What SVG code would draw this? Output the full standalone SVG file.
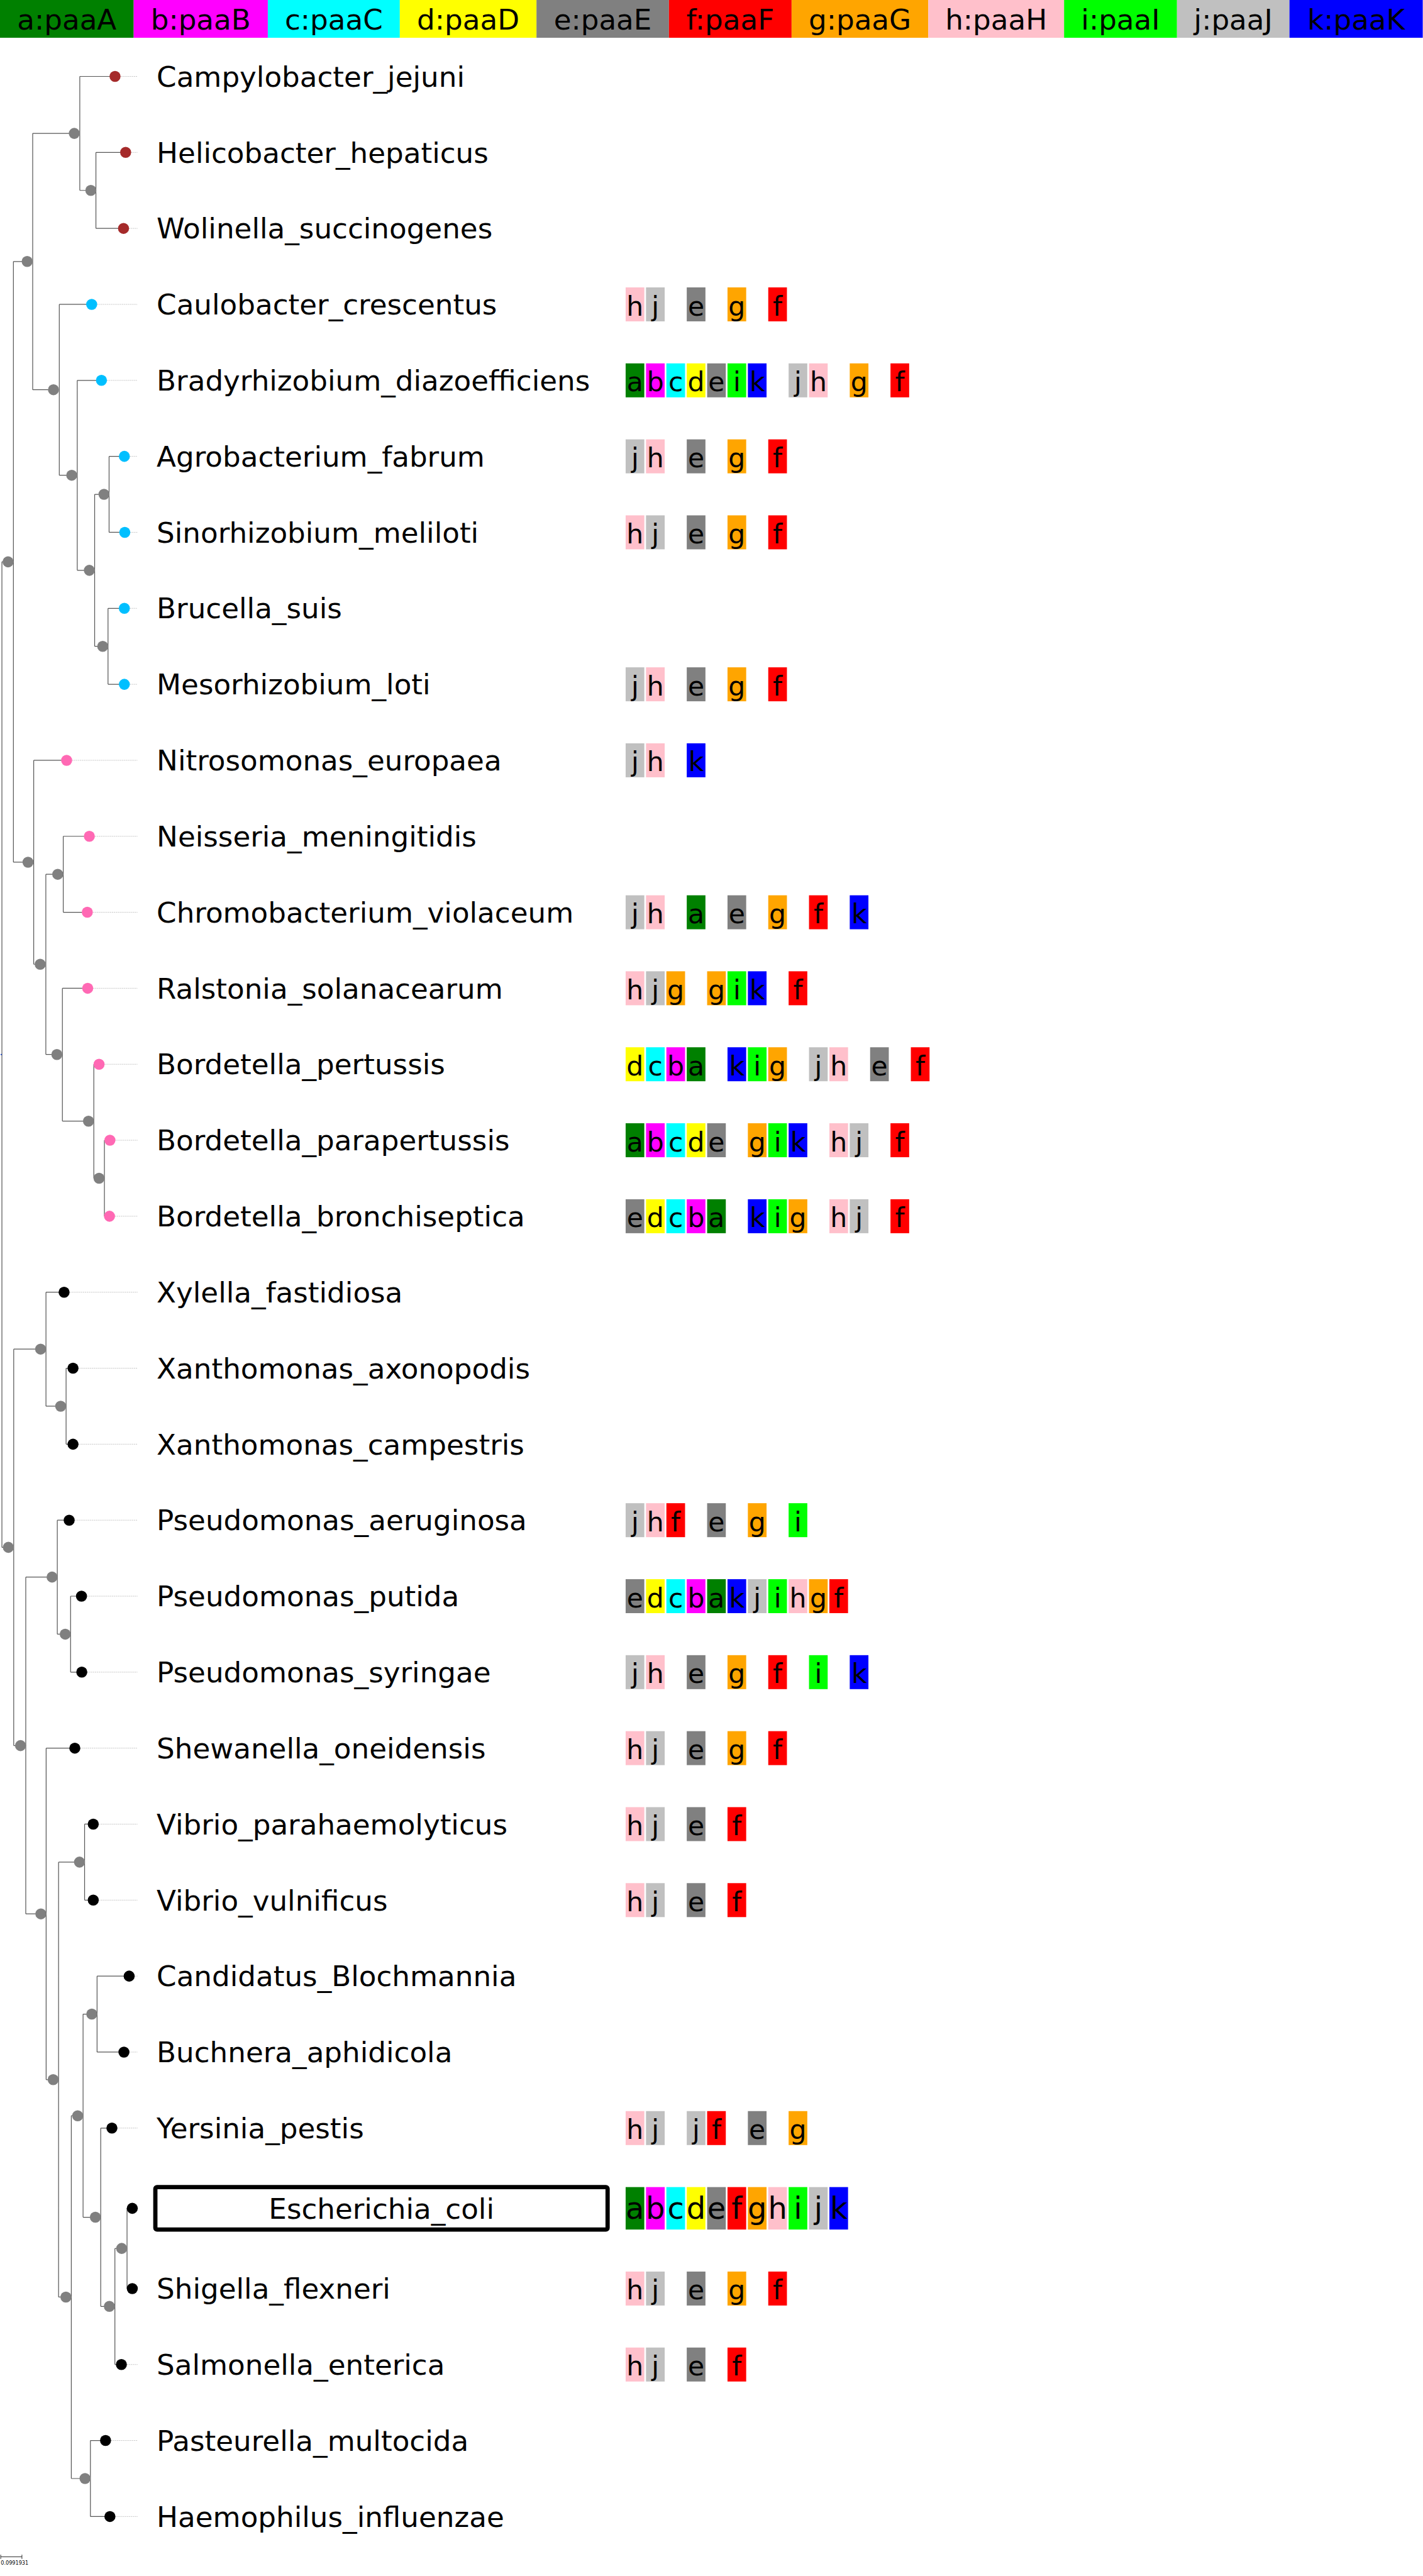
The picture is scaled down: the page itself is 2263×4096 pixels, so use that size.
<svg xmlns="http://www.w3.org/2000/svg" width="2263" height="4096" viewBox="0 0 2263 4096">
<style>
.ht{font-family:'DejaVu Sans',sans-serif;font-size:67px;fill:#000;text-anchor:middle}
.br{stroke:#555;stroke-width:1.8;fill:none}
.lk{stroke:#bbb;stroke-width:1.2;stroke-dasharray:3 1.5;fill:none}
.in{fill:#808080}
.ep{fill:#a52a2a}.al{fill:#00bfff}.be{fill:#ff69b4}.ga{fill:#000}
.lab{font-family:'DejaVu Sans',sans-serif;font-size:67px;fill:#000}
.gl{font-family:'DejaVu Sans',sans-serif;font-size:63px;fill:#000;text-anchor:middle}
.gl2{font-family:'DejaVu Sans',sans-serif;font-size:71px;fill:#000;text-anchor:middle}
.a{fill:#008000}.b{fill:#ff00ff}.c{fill:#00ffff}.d{fill:#ffff00}.e{fill:#808080}.f{fill:#ff0000}.g{fill:#ffa500}.h{fill:#ffc0cb}.i{fill:#00ff00}.j{fill:#c0c0c0}.k{fill:#0000ff}
</style>
<rect width="2263" height="4096" fill="#fff"/>
<g transform="scale(0.675)">
<g id="legend">
<rect class="a" x="0" y="0" width="315" height="89"/><text class="ht" x="157.5" y="69">a:paaA</text>
<rect class="b" x="315" y="0" width="316" height="89"/><text class="ht" x="473" y="69">b:paaB</text>
<rect class="c" x="631" y="0" width="311" height="89"/><text class="ht" x="786.5" y="69">c:paaC</text>
<rect class="d" x="942" y="0" width="322" height="89"/><text class="ht" x="1103" y="69">d:paaD</text>
<rect class="e" x="1264" y="0" width="312" height="89"/><text class="ht" x="1420" y="69">e:paaE</text>
<rect class="f" x="1576" y="0" width="289" height="89"/><text class="ht" x="1720.5" y="69">f:paaF</text>
<rect class="g" x="1865" y="0" width="322" height="89"/><text class="ht" x="2026" y="69">g:paaG</text>
<rect class="h" x="2187" y="0" width="320" height="89"/><text class="ht" x="2347" y="69">h:paaH</text>
<rect class="i" x="2507" y="0" width="266" height="89"/><text class="ht" x="2640" y="69">i:paaI</text>
<rect class="j" x="2773" y="0" width="265" height="89"/><text class="ht" x="2905.5" y="69">j:paaJ</text>
<rect class="k" x="3038" y="0" width="314" height="89"/><text class="ht" x="3195" y="69">k:paaK</text>
</g>
<g id="connectors">
<path class="br" d="M4.5 1323.5V3645M4.5 1323.5H19M4.5 3645H19.7
M31.6 616V2031M31.6 616H64M31.6 2031H66
M77 314.25V918M77 314.25H175M77 918H126
M188 180V448.5M188 180H271M188 448.5H214
M226 359V538M226 359H296M226 538H291
M139.7 717V1119.5M139.7 717H216M139.7 1119.5H169
M182 896V1343.5M182 896H239M182 1343.5H210.5
M223 1164.5V1522.5M223 1164.5H245M223 1522.5H242
M257 1075V1254M257 1075H293M257 1254H294
M254.5 1433V1612M254.5 1433H293M254.5 1612H293
M79.4 1791V2271.5M79.4 1791H157M79.4 2271.5H94.7
M108 2059.5V2484M108 2059.5H136M108 2484H134
M149 1970V2149M149 1970H210.5M149 2149H205.7
M147 2328V2641M147 2328H206.6M147 2641H208.5
M221 2507V2775.5M221 2507H233.4M221 2775.5H233.4
M246 2686V2865M246 2686H259M246 2865H258
M32.3 3178V4112M32.3 3178H95.7M32.3 4112H48.3
M108.3 3044V3312.5M108.3 3044H151M108.3 3312.5H143
M155.7 3223V3402M155.7 3223H172M155.7 3402H172
M60.7 3715V4508.4M60.7 3715H122.7M60.7 4508.4H96.3
M135 3581V3849.5M135 3581H163M135 3849.5H153.7
M166.3 3760V3939M166.3 3760H192M166.3 3939H192.7
M108.7 4118V4899M108.7 4118H176.3M108.7 4899H125.3
M138 4386.5V5411M138 4386.5H187.3M138 5411H155.3
M199.3 4297V4476M199.3 4297H219.7M199.3 4476H219.7
M168 4984V5838.5M168 4984H183M168 5838.5H200.3
M195.7 4744.5V5223M195.7 4744.5H216.3M195.7 5223H224.7
M228.7 4655V4834M228.7 4655H304.3M228.7 4834H292
M237.3 5013V5433M237.3 5013H263.7M237.3 5433H257.7
M270.7 5296.5V5570M270.7 5296.5H286.7M270.7 5570H286
M299.3 5202V5391M299.3 5202H311.7M299.3 5391H311.7
M213 5749V5928M213 5749H248.7M213 5928H259"/>
<path class="lk" d="M284 180H324M309 359H324M304 538H324M229 717H324M252 896H324M306 1075H324M307 1254H324M306 1433H324M306 1612H324M170 1791H324M223.5 1970H324M218.7 2149H324M219.6 2328H324M246.4 2507H324M272 2686H324M271 2865H324M164 3044H324M185 3223H324M185 3402H324M176 3581H324M205 3760H324M205.7 3939H324M189.3 4118H324M232.7 4297H324M232.7 4476H324M317.3 4655H324M305 4834H324M276.7 5013H324M299 5570H324M261.7 5749H324M272 5928H324"/>
</g>
<g id="internal-nodes">
<circle cx="3" cy="2484" r="1.5" fill="#0030c1"/>
<circle class="in" cx="19" cy="1323.5" r="13"/>
<circle class="in" cx="64" cy="616" r="13"/>
<circle class="in" cx="175" cy="314.25" r="13"/>
<circle class="in" cx="214" cy="448.5" r="13"/>
<circle class="in" cx="126" cy="918" r="13"/>
<circle class="in" cx="169" cy="1119.5" r="13"/>
<circle class="in" cx="210.5" cy="1343.5" r="13"/>
<circle class="in" cx="245" cy="1164.5" r="13"/>
<circle class="in" cx="242" cy="1522.5" r="13"/>
<circle class="in" cx="66" cy="2031" r="13"/>
<circle class="in" cx="94.7" cy="2271.5" r="13"/>
<circle class="in" cx="136" cy="2059.5" r="13"/>
<circle class="in" cx="134" cy="2484" r="13"/>
<circle class="in" cx="208.5" cy="2641" r="13"/>
<circle class="in" cx="233.4" cy="2775.5" r="13"/>
<circle class="in" cx="19.7" cy="3645" r="13"/>
<circle class="in" cx="95.7" cy="3178" r="13"/>
<circle class="in" cx="143" cy="3312.5" r="13"/>
<circle class="in" cx="48.3" cy="4112" r="13"/>
<circle class="in" cx="122.7" cy="3715" r="13"/>
<circle class="in" cx="153.7" cy="3849.5" r="13"/>
<circle class="in" cx="96.3" cy="4508.4" r="13"/>
<circle class="in" cx="125.3" cy="4899" r="13"/>
<circle class="in" cx="187.3" cy="4386.5" r="13"/>
<circle class="in" cx="155.3" cy="5411" r="13"/>
<circle class="in" cx="183" cy="4984" r="13"/>
<circle class="in" cx="216.3" cy="4744.5" r="13"/>
<circle class="in" cx="224.7" cy="5223" r="13"/>
<circle class="in" cx="257.7" cy="5433" r="13"/>
<circle class="in" cx="286.7" cy="5296.5" r="13"/>
<circle class="in" cx="200.3" cy="5838.5" r="13"/>
</g>
<g id="Campylobacter_jejuni"><circle class="ep" cx="271" cy="180" r="13"/><text class="lab" x="369" y="204">Campylobacter_jejuni</text></g>
<g id="Helicobacter_hepaticus"><circle class="ep" cx="296" cy="359" r="13"/><text class="lab" x="369" y="383">Helicobacter_hepaticus</text></g>
<g id="Wolinella_succinogenes"><circle class="ep" cx="291" cy="538" r="13"/><text class="lab" x="369" y="562">Wolinella_succinogenes</text></g>
<g id="Caulobacter_crescentus"><circle class="al" cx="216" cy="717" r="13"/><text class="lab" x="369" y="741">Caulobacter_crescentus</text>
<rect class="h" x="1474" y="677" width="44" height="80"/><rect class="j" x="1522" y="677" width="44" height="80"/><rect class="e" x="1618" y="677" width="44" height="80"/><rect class="g" x="1714" y="677" width="44" height="80"/><rect class="f" x="1810" y="677" width="44" height="80"/>
<g transform="translate(0,743)"><text class="gl" x="1496">h</text><text class="gl" x="1544">j</text><text class="gl" x="1640">e</text><text class="gl" x="1736">g</text><text class="gl" x="1832">f</text></g></g>
<g id="Bradyrhizobium_diazoefficiens"><circle class="al" cx="239" cy="896" r="13"/><text class="lab" x="369" y="920">Bradyrhizobium_diazoefficiens</text>
<rect class="a" x="1474" y="856" width="44" height="80"/><rect class="b" x="1522" y="856" width="44" height="80"/><rect class="c" x="1570" y="856" width="44" height="80"/><rect class="d" x="1618" y="856" width="44" height="80"/><rect class="e" x="1666" y="856" width="44" height="80"/><rect class="i" x="1714" y="856" width="44" height="80"/><rect class="k" x="1762" y="856" width="44" height="80"/><rect class="j" x="1858" y="856" width="44" height="80"/><rect class="h" x="1906" y="856" width="44" height="80"/><rect class="g" x="2002" y="856" width="44" height="80"/><rect class="f" x="2098" y="856" width="44" height="80"/>
<g transform="translate(0,922)"><text class="gl" x="1496">a</text><text class="gl" x="1544">b</text><text class="gl" x="1592">c</text><text class="gl" x="1640">d</text><text class="gl" x="1688">e</text><text class="gl" x="1736">i</text><text class="gl" x="1784">k</text><text class="gl" x="1880">j</text><text class="gl" x="1928">h</text><text class="gl" x="2024">g</text><text class="gl" x="2120">f</text></g></g>
<g id="Agrobacterium_fabrum"><circle class="al" cx="293" cy="1075" r="13"/><text class="lab" x="369" y="1099">Agrobacterium_fabrum</text>
<rect class="j" x="1474" y="1035" width="44" height="80"/><rect class="h" x="1522" y="1035" width="44" height="80"/><rect class="e" x="1618" y="1035" width="44" height="80"/><rect class="g" x="1714" y="1035" width="44" height="80"/><rect class="f" x="1810" y="1035" width="44" height="80"/>
<g transform="translate(0,1101)"><text class="gl" x="1496">j</text><text class="gl" x="1544">h</text><text class="gl" x="1640">e</text><text class="gl" x="1736">g</text><text class="gl" x="1832">f</text></g></g>
<g id="Sinorhizobium_meliloti"><circle class="al" cx="294" cy="1254" r="13"/><text class="lab" x="369" y="1278">Sinorhizobium_meliloti</text>
<rect class="h" x="1474" y="1214" width="44" height="80"/><rect class="j" x="1522" y="1214" width="44" height="80"/><rect class="e" x="1618" y="1214" width="44" height="80"/><rect class="g" x="1714" y="1214" width="44" height="80"/><rect class="f" x="1810" y="1214" width="44" height="80"/>
<g transform="translate(0,1280)"><text class="gl" x="1496">h</text><text class="gl" x="1544">j</text><text class="gl" x="1640">e</text><text class="gl" x="1736">g</text><text class="gl" x="1832">f</text></g></g>
<g id="Brucella_suis"><circle class="al" cx="293" cy="1433" r="13"/><text class="lab" x="369" y="1457">Brucella_suis</text></g>
<g id="Mesorhizobium_loti"><circle class="al" cx="293" cy="1612" r="13"/><text class="lab" x="369" y="1636">Mesorhizobium_loti</text>
<rect class="j" x="1474" y="1572" width="44" height="80"/><rect class="h" x="1522" y="1572" width="44" height="80"/><rect class="e" x="1618" y="1572" width="44" height="80"/><rect class="g" x="1714" y="1572" width="44" height="80"/><rect class="f" x="1810" y="1572" width="44" height="80"/>
<g transform="translate(0,1638)"><text class="gl" x="1496">j</text><text class="gl" x="1544">h</text><text class="gl" x="1640">e</text><text class="gl" x="1736">g</text><text class="gl" x="1832">f</text></g></g>
<g id="Nitrosomonas_europaea"><circle class="be" cx="157" cy="1791" r="13"/><text class="lab" x="369" y="1815">Nitrosomonas_europaea</text>
<rect class="j" x="1474" y="1751" width="44" height="80"/><rect class="h" x="1522" y="1751" width="44" height="80"/><rect class="k" x="1618" y="1751" width="44" height="80"/>
<g transform="translate(0,1817)"><text class="gl" x="1496">j</text><text class="gl" x="1544">h</text><text class="gl" x="1640">k</text></g></g>
<g id="Neisseria_meningitidis"><circle class="be" cx="210.5" cy="1970" r="13"/><text class="lab" x="369" y="1994">Neisseria_meningitidis</text></g>
<g id="Chromobacterium_violaceum"><circle class="be" cx="205.7" cy="2149" r="13"/><text class="lab" x="369" y="2173">Chromobacterium_violaceum</text>
<rect class="j" x="1474" y="2109" width="44" height="80"/><rect class="h" x="1522" y="2109" width="44" height="80"/><rect class="a" x="1618" y="2109" width="44" height="80"/><rect class="e" x="1714" y="2109" width="44" height="80"/><rect class="g" x="1810" y="2109" width="44" height="80"/><rect class="f" x="1906" y="2109" width="44" height="80"/><rect class="k" x="2002" y="2109" width="44" height="80"/>
<g transform="translate(0,2175)"><text class="gl" x="1496">j</text><text class="gl" x="1544">h</text><text class="gl" x="1640">a</text><text class="gl" x="1736">e</text><text class="gl" x="1832">g</text><text class="gl" x="1928">f</text><text class="gl" x="2024">k</text></g></g>
<g id="Ralstonia_solanacearum"><circle class="be" cx="206.6" cy="2328" r="13"/><text class="lab" x="369" y="2352">Ralstonia_solanacearum</text>
<rect class="h" x="1474" y="2288" width="44" height="80"/><rect class="j" x="1522" y="2288" width="44" height="80"/><rect class="g" x="1570" y="2288" width="44" height="80"/><rect class="g" x="1666" y="2288" width="44" height="80"/><rect class="i" x="1714" y="2288" width="44" height="80"/><rect class="k" x="1762" y="2288" width="44" height="80"/><rect class="f" x="1858" y="2288" width="44" height="80"/>
<g transform="translate(0,2354)"><text class="gl" x="1496">h</text><text class="gl" x="1544">j</text><text class="gl" x="1592">g</text><text class="gl" x="1688">g</text><text class="gl" x="1736">i</text><text class="gl" x="1784">k</text><text class="gl" x="1880">f</text></g></g>
<g id="Bordetella_pertussis"><circle class="be" cx="233.4" cy="2507" r="13"/><text class="lab" x="369" y="2531">Bordetella_pertussis</text>
<rect class="d" x="1474" y="2467" width="44" height="80"/><rect class="c" x="1522" y="2467" width="44" height="80"/><rect class="b" x="1570" y="2467" width="44" height="80"/><rect class="a" x="1618" y="2467" width="44" height="80"/><rect class="k" x="1714" y="2467" width="44" height="80"/><rect class="i" x="1762" y="2467" width="44" height="80"/><rect class="g" x="1810" y="2467" width="44" height="80"/><rect class="j" x="1906" y="2467" width="44" height="80"/><rect class="h" x="1954" y="2467" width="44" height="80"/><rect class="e" x="2050" y="2467" width="44" height="80"/><rect class="f" x="2146" y="2467" width="44" height="80"/>
<g transform="translate(0,2533)"><text class="gl" x="1496">d</text><text class="gl" x="1544">c</text><text class="gl" x="1592">b</text><text class="gl" x="1640">a</text><text class="gl" x="1736">k</text><text class="gl" x="1784">i</text><text class="gl" x="1832">g</text><text class="gl" x="1928">j</text><text class="gl" x="1976">h</text><text class="gl" x="2072">e</text><text class="gl" x="2168">f</text></g></g>
<g id="Bordetella_parapertussis"><circle class="be" cx="259" cy="2686" r="13"/><text class="lab" x="369" y="2710">Bordetella_parapertussis</text>
<rect class="a" x="1474" y="2646" width="44" height="80"/><rect class="b" x="1522" y="2646" width="44" height="80"/><rect class="c" x="1570" y="2646" width="44" height="80"/><rect class="d" x="1618" y="2646" width="44" height="80"/><rect class="e" x="1666" y="2646" width="44" height="80"/><rect class="g" x="1762" y="2646" width="44" height="80"/><rect class="i" x="1810" y="2646" width="44" height="80"/><rect class="k" x="1858" y="2646" width="44" height="80"/><rect class="h" x="1954" y="2646" width="44" height="80"/><rect class="j" x="2002" y="2646" width="44" height="80"/><rect class="f" x="2098" y="2646" width="44" height="80"/>
<g transform="translate(0,2712)"><text class="gl" x="1496">a</text><text class="gl" x="1544">b</text><text class="gl" x="1592">c</text><text class="gl" x="1640">d</text><text class="gl" x="1688">e</text><text class="gl" x="1784">g</text><text class="gl" x="1832">i</text><text class="gl" x="1880">k</text><text class="gl" x="1976">h</text><text class="gl" x="2024">j</text><text class="gl" x="2120">f</text></g></g>
<g id="Bordetella_bronchiseptica"><circle class="be" cx="258" cy="2865" r="13"/><text class="lab" x="369" y="2889">Bordetella_bronchiseptica</text>
<rect class="e" x="1474" y="2825" width="44" height="80"/><rect class="d" x="1522" y="2825" width="44" height="80"/><rect class="c" x="1570" y="2825" width="44" height="80"/><rect class="b" x="1618" y="2825" width="44" height="80"/><rect class="a" x="1666" y="2825" width="44" height="80"/><rect class="k" x="1762" y="2825" width="44" height="80"/><rect class="i" x="1810" y="2825" width="44" height="80"/><rect class="g" x="1858" y="2825" width="44" height="80"/><rect class="h" x="1954" y="2825" width="44" height="80"/><rect class="j" x="2002" y="2825" width="44" height="80"/><rect class="f" x="2098" y="2825" width="44" height="80"/>
<g transform="translate(0,2891)"><text class="gl" x="1496">e</text><text class="gl" x="1544">d</text><text class="gl" x="1592">c</text><text class="gl" x="1640">b</text><text class="gl" x="1688">a</text><text class="gl" x="1784">k</text><text class="gl" x="1832">i</text><text class="gl" x="1880">g</text><text class="gl" x="1976">h</text><text class="gl" x="2024">j</text><text class="gl" x="2120">f</text></g></g>
<g id="Xylella_fastidiosa"><circle class="ga" cx="151" cy="3044" r="13"/><text class="lab" x="369" y="3068">Xylella_fastidiosa</text></g>
<g id="Xanthomonas_axonopodis"><circle class="ga" cx="172" cy="3223" r="13"/><text class="lab" x="369" y="3247">Xanthomonas_axonopodis</text></g>
<g id="Xanthomonas_campestris"><circle class="ga" cx="172" cy="3402" r="13"/><text class="lab" x="369" y="3426">Xanthomonas_campestris</text></g>
<g id="Pseudomonas_aeruginosa"><circle class="ga" cx="163" cy="3581" r="13"/><text class="lab" x="369" y="3605">Pseudomonas_aeruginosa</text>
<rect class="j" x="1474" y="3541" width="44" height="80"/><rect class="h" x="1522" y="3541" width="44" height="80"/><rect class="f" x="1570" y="3541" width="44" height="80"/><rect class="e" x="1666" y="3541" width="44" height="80"/><rect class="g" x="1762" y="3541" width="44" height="80"/><rect class="i" x="1858" y="3541" width="44" height="80"/>
<g transform="translate(0,3607)"><text class="gl" x="1496">j</text><text class="gl" x="1544">h</text><text class="gl" x="1592">f</text><text class="gl" x="1688">e</text><text class="gl" x="1784">g</text><text class="gl" x="1880">i</text></g></g>
<g id="Pseudomonas_putida"><circle class="ga" cx="192" cy="3760" r="13"/><text class="lab" x="369" y="3784">Pseudomonas_putida</text>
<rect class="e" x="1474" y="3720" width="44" height="80"/><rect class="d" x="1522" y="3720" width="44" height="80"/><rect class="c" x="1570" y="3720" width="44" height="80"/><rect class="b" x="1618" y="3720" width="44" height="80"/><rect class="a" x="1666" y="3720" width="44" height="80"/><rect class="k" x="1714" y="3720" width="44" height="80"/><rect class="j" x="1762" y="3720" width="44" height="80"/><rect class="i" x="1810" y="3720" width="44" height="80"/><rect class="h" x="1858" y="3720" width="44" height="80"/><rect class="g" x="1906" y="3720" width="44" height="80"/><rect class="f" x="1954" y="3720" width="44" height="80"/>
<g transform="translate(0,3786)"><text class="gl" x="1496">e</text><text class="gl" x="1544">d</text><text class="gl" x="1592">c</text><text class="gl" x="1640">b</text><text class="gl" x="1688">a</text><text class="gl" x="1736">k</text><text class="gl" x="1784">j</text><text class="gl" x="1832">i</text><text class="gl" x="1880">h</text><text class="gl" x="1928">g</text><text class="gl" x="1976">f</text></g></g>
<g id="Pseudomonas_syringae"><circle class="ga" cx="192.7" cy="3939" r="13"/><text class="lab" x="369" y="3963">Pseudomonas_syringae</text>
<rect class="j" x="1474" y="3899" width="44" height="80"/><rect class="h" x="1522" y="3899" width="44" height="80"/><rect class="e" x="1618" y="3899" width="44" height="80"/><rect class="g" x="1714" y="3899" width="44" height="80"/><rect class="f" x="1810" y="3899" width="44" height="80"/><rect class="i" x="1906" y="3899" width="44" height="80"/><rect class="k" x="2002" y="3899" width="44" height="80"/>
<g transform="translate(0,3965)"><text class="gl" x="1496">j</text><text class="gl" x="1544">h</text><text class="gl" x="1640">e</text><text class="gl" x="1736">g</text><text class="gl" x="1832">f</text><text class="gl" x="1928">i</text><text class="gl" x="2024">k</text></g></g>
<g id="Shewanella_oneidensis"><circle class="ga" cx="176.3" cy="4118" r="13"/><text class="lab" x="369" y="4142">Shewanella_oneidensis</text>
<rect class="h" x="1474" y="4078" width="44" height="80"/><rect class="j" x="1522" y="4078" width="44" height="80"/><rect class="e" x="1618" y="4078" width="44" height="80"/><rect class="g" x="1714" y="4078" width="44" height="80"/><rect class="f" x="1810" y="4078" width="44" height="80"/>
<g transform="translate(0,4144)"><text class="gl" x="1496">h</text><text class="gl" x="1544">j</text><text class="gl" x="1640">e</text><text class="gl" x="1736">g</text><text class="gl" x="1832">f</text></g></g>
<g id="Vibrio_parahaemolyticus"><circle class="ga" cx="219.7" cy="4297" r="13"/><text class="lab" x="369" y="4321">Vibrio_parahaemolyticus</text>
<rect class="h" x="1474" y="4257" width="44" height="80"/><rect class="j" x="1522" y="4257" width="44" height="80"/><rect class="e" x="1618" y="4257" width="44" height="80"/><rect class="f" x="1714" y="4257" width="44" height="80"/>
<g transform="translate(0,4323)"><text class="gl" x="1496">h</text><text class="gl" x="1544">j</text><text class="gl" x="1640">e</text><text class="gl" x="1736">f</text></g></g>
<g id="Vibrio_vulnificus"><circle class="ga" cx="219.7" cy="4476" r="13"/><text class="lab" x="369" y="4500">Vibrio_vulnificus</text>
<rect class="h" x="1474" y="4436" width="44" height="80"/><rect class="j" x="1522" y="4436" width="44" height="80"/><rect class="e" x="1618" y="4436" width="44" height="80"/><rect class="f" x="1714" y="4436" width="44" height="80"/>
<g transform="translate(0,4502)"><text class="gl" x="1496">h</text><text class="gl" x="1544">j</text><text class="gl" x="1640">e</text><text class="gl" x="1736">f</text></g></g>
<g id="Candidatus_Blochmannia"><circle class="ga" cx="304.3" cy="4655" r="13"/><text class="lab" x="369" y="4679">Candidatus_Blochmannia</text></g>
<g id="Buchnera_aphidicola"><circle class="ga" cx="292" cy="4834" r="13"/><text class="lab" x="369" y="4858">Buchnera_aphidicola</text></g>
<g id="Yersinia_pestis"><circle class="ga" cx="263.7" cy="5013" r="13"/><text class="lab" x="369" y="5037">Yersinia_pestis</text>
<rect class="h" x="1474" y="4973" width="44" height="80"/><rect class="j" x="1522" y="4973" width="44" height="80"/><rect class="j" x="1618" y="4973" width="44" height="80"/><rect class="f" x="1666" y="4973" width="44" height="80"/><rect class="e" x="1762" y="4973" width="44" height="80"/><rect class="g" x="1858" y="4973" width="44" height="80"/>
<g transform="translate(0,5039)"><text class="gl" x="1496">h</text><text class="gl" x="1544">j</text><text class="gl" x="1640">j</text><text class="gl" x="1688">f</text><text class="gl" x="1784">e</text><text class="gl" x="1880">g</text></g></g>
<g id="Escherichia_coli"><circle class="ga" cx="311.7" cy="5202" r="13"/>
<rect x="366" y="5152" width="1065.5" height="100" rx="4" fill="#fff" stroke="#000" stroke-width="10"/>
<text class="lab" x="898.75" y="5226" text-anchor="middle">Escherichia_coli</text>
<rect class="a" x="1474" y="5152" width="44" height="100"/><rect class="b" x="1522" y="5152" width="44" height="100"/><rect class="c" x="1570" y="5152" width="44" height="100"/><rect class="d" x="1618" y="5152" width="44" height="100"/><rect class="e" x="1666" y="5152" width="44" height="100"/><rect class="f" x="1714" y="5152" width="44" height="100"/><rect class="g" x="1762" y="5152" width="44" height="100"/><rect class="h" x="1810" y="5152" width="44" height="100"/><rect class="i" x="1858" y="5152" width="44" height="100"/><rect class="j" x="1906" y="5152" width="44" height="100"/><rect class="k" x="1954" y="5152" width="44" height="100"/>
<g transform="translate(0,5226)"><text class="gl2" x="1496">a</text><text class="gl2" x="1544">b</text><text class="gl2" x="1592">c</text><text class="gl2" x="1640">d</text><text class="gl2" x="1688">e</text><text class="gl2" x="1736">f</text><text class="gl2" x="1784">g</text><text class="gl2" x="1832">h</text><text class="gl2" x="1880">i</text><text class="gl2" x="1928">j</text><text class="gl2" x="1976">k</text></g></g>
<g id="Shigella_flexneri"><circle class="ga" cx="311.7" cy="5391" r="13"/><text class="lab" x="369" y="5415">Shigella_flexneri</text>
<rect class="h" x="1474" y="5351" width="44" height="80"/><rect class="j" x="1522" y="5351" width="44" height="80"/><rect class="e" x="1618" y="5351" width="44" height="80"/><rect class="g" x="1714" y="5351" width="44" height="80"/><rect class="f" x="1810" y="5351" width="44" height="80"/>
<g transform="translate(0,5417)"><text class="gl" x="1496">h</text><text class="gl" x="1544">j</text><text class="gl" x="1640">e</text><text class="gl" x="1736">g</text><text class="gl" x="1832">f</text></g></g>
<g id="Salmonella_enterica"><circle class="ga" cx="286" cy="5570" r="13"/><text class="lab" x="369" y="5594">Salmonella_enterica</text>
<rect class="h" x="1474" y="5530" width="44" height="80"/><rect class="j" x="1522" y="5530" width="44" height="80"/><rect class="e" x="1618" y="5530" width="44" height="80"/><rect class="f" x="1714" y="5530" width="44" height="80"/>
<g transform="translate(0,5596)"><text class="gl" x="1496">h</text><text class="gl" x="1544">j</text><text class="gl" x="1640">e</text><text class="gl" x="1736">f</text></g></g>
<g id="Pasteurella_multocida"><circle class="ga" cx="248.7" cy="5749" r="13"/><text class="lab" x="369" y="5773">Pasteurella_multocida</text></g>
<g id="Haemophilus_influenzae"><circle class="ga" cx="259" cy="5928" r="13"/><text class="lab" x="369" y="5952">Haemophilus_influenzae</text></g>
<g id="scale-bar">
<path d="M1.7 6023H51.7M1.7 6018V6028M51.7 6018V6028" stroke="#000" stroke-width="1.2" fill="none"/>
<text x="2" y="6041" font-family="'DejaVu Sans',sans-serif" font-size="12">0.0991931</text>
</g>
</g>
</svg>
